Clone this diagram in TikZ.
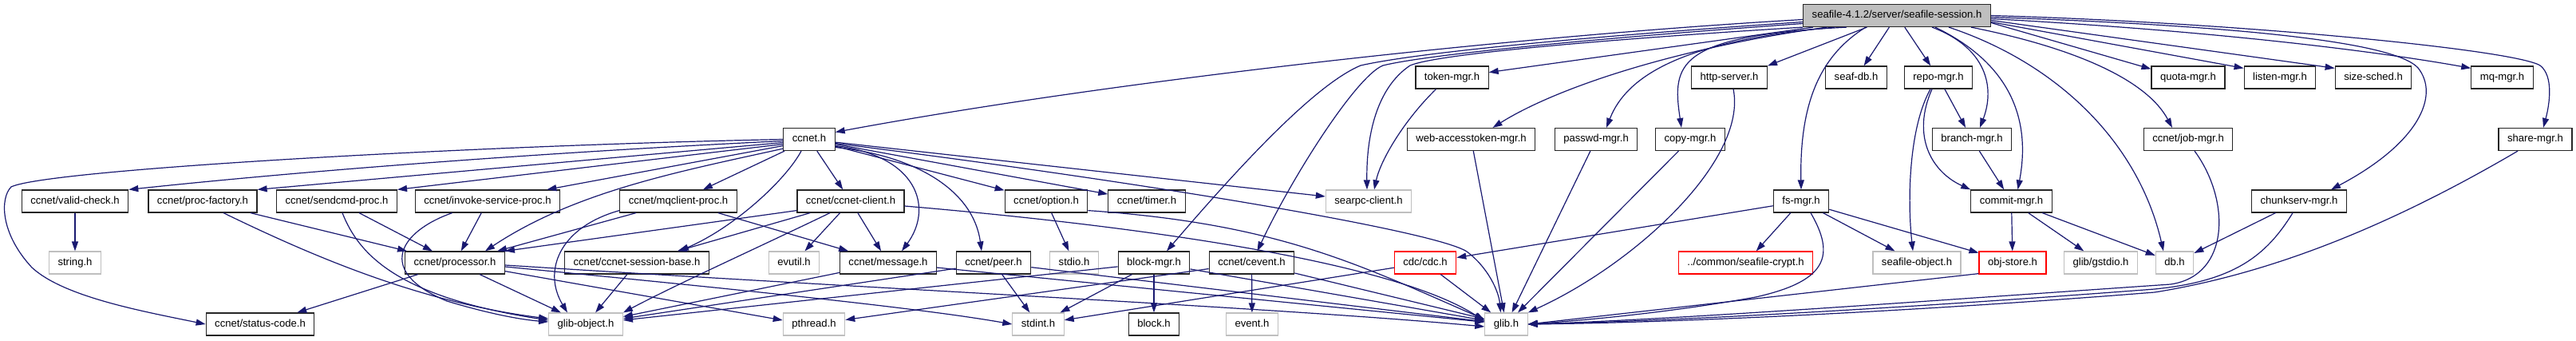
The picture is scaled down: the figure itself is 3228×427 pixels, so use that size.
\documentclass[tikz,border=0pt]{standalone}
\usepackage{fontspec}
\setmainfont{Liberation Sans}
\usetikzlibrary{calc,arrows.meta}
\definecolor{edgecol}{RGB}{25,25,112}
\definecolor{undoccol}{RGB}{191,191,191}
\definecolor{rootfill}{RGB}{191,191,191}
\begin{document}
\begin{tikzpicture}[x=0.5pt,y=-0.5pt,
  box/.style={rectangle,draw,line width=0.6pt,inner xsep=5.5pt,inner ysep=0pt,minimum height=14pt,
    text height=4.8pt,text depth=1.4pt,font=\fontsize{6.55}{7.5}\selectfont},
  doc/.style={box,draw=black!85},
  undoc/.style={box,draw=undoccol},
  trunc/.style={box,draw=red},
  rootnode/.style={box,draw=black!85,fill=rootfill},
  e/.style={draw=edgecol,line width=0.6pt,-{Triangle[length=6pt,width=4pt]}}]
\useasboundingbox (0,0) rectangle (3228,427);
% row 0
\node[rootnode] (root) at (2377,19.5) {seafile-4.1.2/server/seafile-session.h};
% row 1
\node[doc] (token) at (1819.5,97) {token-mgr.h};
\node[doc] (http) at (2167,97) {http-server.h};
\node[doc] (seafdb) at (2326,97) {seaf-db.h};
\node[doc] (repo) at (2429,97) {repo-mgr.h};
\node[doc] (quota) at (2742,97) {quota-mgr.h};
\node[doc] (listen) at (2857,97) {listen-mgr.h};
\node[doc] (sizesched) at (2974,97) {size-sched.h};
\node[doc] (mq) at (3135.5,97) {mq-mgr.h};
% row 2
\node[doc] (ccnet) at (1014,174.5) {ccnet.h};
\node[doc] (webtok) at (1843.5,174.5) {web-accesstoken-mgr.h};
\node[doc] (passwd) at (2000,174.5) {passwd-mgr.h};
\node[doc] (copy) at (2118,174.5) {copy-mgr.h};
\node[doc] (branch) at (2471,174.5) {branch-mgr.h};
\node[doc] (jobmgr) at (2742,174.5) {ccnet/job-mgr.h};
\node[doc] (sharemgr) at (3177,174.5) {share-mgr.h};
% row 3
\node[doc] (validcheck) at (94,252) {ccnet/valid-check.h};
\node[doc] (procfactory) at (254,252) {ccnet/proc-factory.h};
\node[doc] (sendcmd) at (422,252) {ccnet/sendcmd-proc.h};
\node[doc] (invoke) at (611,252) {ccnet/invoke-service-proc.h};
\node[doc] (mqclient) at (850,252) {ccnet/mqclient-proc.h};
\node[doc] (cclient) at (1066,252) {ccnet/ccnet-client.h};
\node[doc] (option) at (1311,252) {ccnet/option.h};
\node[doc] (timer) at (1437,252) {ccnet/timer.h};
\node[undoc] (searpc) at (1715,252) {searpc-client.h};
\node[doc] (fsmgr) at (2257,252) {fs-mgr.h};
\node[doc] (commit) at (2520.5,252) {commit-mgr.h};
\node[doc] (chunkserv) at (2881,252) {chunkserv-mgr.h};
% row 4
\node[undoc] (string) at (94,329) {string.h};
\node[doc] (processor) at (570,329) {ccnet/processor.h};
\node[doc] (sessbase) at (798,329) {ccnet/ccnet-session-base.h};
\node[undoc] (evutil) at (995,329) {evutil.h};
\node[doc] (message) at (1113,329) {ccnet/message.h};
\node[doc] (peer) at (1245,329) {ccnet/peer.h};
\node[undoc] (stdio) at (1346,329) {stdio.h};
\node[doc] (blockmgr) at (1446,329) {block-mgr.h};
\node[doc] (cevent) at (1568.5,329) {ccnet/cevent.h};
\node[trunc] (cdc) at (1786,329) {cdc/cdc.h};
\node[trunc] (crypt) at (2187.5,329) {../common/seafile-crypt.h};
\node[undoc] (seafobj) at (2402,329) {seafile-object.h};
\node[trunc] (objstore) at (2522,329) {obj-store.h};
\node[undoc] (gstdio) at (2632.5,329) {glib/gstdio.h};
\node[undoc] (db) at (2725,329) {db.h};
% row 5
\node[doc] (status) at (326,406) {ccnet/status-code.h};
\node[undoc] (gobject) at (734,406) {glib-object.h};
\node[undoc] (pthread) at (1020,406) {pthread.h};
\node[undoc] (stdint) at (1301,406) {stdint.h};
\node[doc] (block) at (1446,406) {block.h};
\node[undoc] (event) at (1569,406) {event.h};
\node[undoc] (glib) at (1887.5,406) {glib.h};

% ---- edges from ccnet.h
\draw[e] (ccnet.west) .. controls (600,182) and (60,212) .. (14,234) .. controls (0,248) and (0,292) .. (40,335) .. controls (80,372) and (180,390) .. (status.west);
\draw[e] ($(ccnet.west)+(0,2)$) .. controls (700,190) and (400,212) .. (validcheck.north east);
\draw[e] ($(ccnet.west)+(0,4)$) -- (procfactory.north east);
\draw[e] ($(ccnet.west)+(0,6)$) -- (sendcmd.north east);
\draw[e] ($(ccnet.west)+(0,8)$) -- ($(invoke.north east)+(-17,0)$);
\draw[e] ($(ccnet.south west)+(0,-3)$) .. controls (850,215) and (720,240) .. ($(processor.north)+(38,0)$);
\draw[e] (ccnet) -- (mqclient);
\draw[e] (ccnet) -- (cclient);
\draw[e] ($(ccnet.south)+(-10,0)$) .. controls (985,225) and (920,285) .. ($(sessbase.north)+(53,0)$);
\draw[e] ($(ccnet.east)+(0,8)$) .. controls (1150,195) and (1170,260) .. ($(message.north)+(17,0)$);
\draw[e] ($(ccnet.east)+(0,10)$) .. controls (1150,195) and (1220,240) .. ($(peer.north)+(-15,0)$);
\draw[e] (ccnet) -- (option);
\draw[e] (ccnet) -- (timer);
\draw[e] (ccnet) -- ($(searpc.west)+(0,-6)$);
\draw[e] ($(ccnet.east)+(0,5)$) .. controls (1450,230) and (1800,290) .. (1838,315) .. controls (1865,335) and (1878,365) .. ($(glib.north)+(-7,0)$);

% ---- second level, left part
\draw[e] (validcheck) -- (string);
\draw[e] (procfactory) -- (processor);
\draw[e] ($(procfactory.south)+(26,0)$) .. controls (380,315) and (520,378) .. ($(gobject.west)+(0,-7)$);
\draw[e] (sendcmd) -- (processor);
\draw[e] ($(sendcmd.south)+(7,0)$) .. controls (450,320) and (500,372) .. ($(gobject.west)+(0,-5)$);
\draw[e] (invoke) -- (processor);
\draw[e] ($(invoke.south west)+(47,0)$) .. controls (500,290) and (470,340) .. (560,377) .. controls (610,392) and (650,400) .. ($(gobject.west)+(0,-3)$);
\draw[e] (processor) -- (status);
\draw[e] (processor) -- (gobject);
\draw[e] ($(processor.south east)+(0,-4)$) -- ($(pthread.west)+(0,-5)$);
\draw[e] ($(processor.east)+(0,5)$) .. controls (900,360) and (1150,385) .. (stdint.west);
\draw[e] ($(processor.east)+(0,3)$) .. controls (1100,362) and (1600,385) .. ($(glib.west)+(0,3)$);
\draw[e] (mqclient) -- (processor);
\draw[e] ($(mqclient.south west)+(0,-3)$) .. controls (700,285) and (680,340) .. ($(gobject.north)+(-23,0)$);
\draw[e] (mqclient) -- (message);
\draw[e] ($(cclient.south west)+(0,-3)$) -- (processor.north east);
\draw[e] (cclient) -- (sessbase);
\draw[e] ($(cclient.south)+(-26,0)$) .. controls (950,310) and (850,355) .. (gobject.north east);
\draw[e] (cclient) -- (evutil);
\draw[e] (cclient) -- (message);
\draw[e] ($(cclient.east)+(0,6)$) .. controls (1450,285) and (1750,330) .. ($(glib.west)+(0,-4)$);
\draw[e] (sessbase) -- (gobject);
\draw[e] (message) -- (gobject);
\draw[e] (message) -- (glib);
\draw[e] (peer) -- (gobject);
\draw[e] (peer) -- (stdint);
\draw[e] (peer) -- (glib);
\draw[e] (option) -- (stdio);
\draw[e] ($(option.south east)+(0,-3)$) .. controls (1600,280) and (1700,330) .. ($(glib.west)+(0,-6)$);
\draw[e] (blockmgr) -- (gobject);
\draw[e] (blockmgr) -- (stdint);
\draw[e] (blockmgr) -- (block);
\draw[e] (blockmgr) -- (glib);
\draw[e] (cevent) -- (pthread);
\draw[e] (cevent) -- (event);
\draw[e] (cevent) -- (glib);
\draw[e] (cdc) -- (stdint);
\draw[e] (cdc) -- (glib);

% ---- edges from the root
\draw[e] ($(root.west)+(0,5)$) .. controls (1900,45) and (1400,100) .. ($(ccnet.east)+(0,-9)$);
\draw[e] ($(root.west)+(0,8)$) .. controls (2000,45) and (1780,65) .. (1705,82) .. controls (1650,105) and (1560,200) .. ($(blockmgr.north)+(16,0)$);
\draw[e] ($(root.west)+(0,10)$) .. controls (2000,48) and (1790,68) .. (1733,82) .. controls (1700,95) and (1620,220) .. ($(cevent.north)+(7,0)$);
\draw[e] (root.south west) .. controls (2000,50) and (1800,68) .. (1767,82) .. controls (1725,110) and (1712,170) .. ($(searpc.north)+(-2,0)$);
\draw[e] (root) -- (token);
\draw[e] ($(root.south west)+(30,0)$) .. controls (2100,60) and (1950,110) .. ($(webtok.north)+(27,0)$);
\draw[e] ($(root.south west)+(40,0)$) .. controls (2120,50) and (2040,90) .. ($(passwd.north)+(13,0)$);
\draw[e] ($(root.south west)+(55,0)$) .. controls (2100,45) and (2095,80) .. ($(copy.north)+(-11,0)$);
\draw[e] (root) -- (http.north east);
\draw[e] ($(root.south)+(-39,0)$) .. controls (2280,70) and (2255,130) .. (fsmgr.north);
\draw[e] (root) -- (seafdb);
\draw[e] (root) -- (repo);
\draw[e] ($(root.south)+(44,0)$) .. controls (2490,60) and (2500,110) .. ($(branch.north)+(10,0)$);
\draw[e] ($(root.south)+(48,0)$) .. controls (2520,80) and (2545,150) .. ($(commit.north)+(8,0)$);
\draw[e] ($(root.south)+(65,0)$) .. controls (2580,80) and (2680,180) .. ($(db.north)+(-14,0)$);
\draw[e] ($(root.south east)+(-25,0)$) .. controls (2600,60) and (2690,100) .. ($(jobmgr.north)+(-20,0)$);
\draw[e] ($(root.east)+(0,9)$) -- ($(quota.north west)+(0,4)$);
\draw[e] ($(root.east)+(0,8)$) -- ($(listen.north west)+(0,3)$);
\draw[e] ($(root.east)+(0,6)$) -- ($(sizesched.north west)+(0,3)$);
\draw[e] ($(root.east)+(0,4)$) .. controls (2800,40) and (3000,68) .. ($(mq.north west)+(0,3)$);
\draw[e] ($(root.east)+(0,2)$) .. controls (2800,32) and (3000,52) .. (3030,85) .. controls (3058,120) and (3030,180) .. ($(chunkserv.north)+(40,0)$);
\draw[e] (root.east) .. controls (2800,28) and (3150,62) .. (3183,82) .. controls (3200,95) and (3195,130) .. ($(sharemgr.north)+(10,0)$);

% ---- other edges
\draw[e] ($(token.south)+(-20,0)$) .. controls (1760,150) and (1730,200) .. ($(searpc.north)+(7,0)$);
\draw[e] ($(repo.south)+(-10,0)$) .. controls (2392,160) and (2390,250) .. ($(seafobj.north)+(-5,0)$);
\draw[e] ($(repo.south)+(-8,0)$) .. controls (2395,170) and (2420,215) .. (commit.north west);
\draw[e] (repo) -- (branch);
\draw[e] (branch) -- (commit);
\draw[e] (fsmgr) -- (cdc);
\draw[e] (fsmgr) -- (crypt);
\draw[e] (fsmgr) -- (seafobj);
\draw[e] (fsmgr) -- (objstore);
\draw[e] ($(fsmgr.south)+(12,0)$) .. controls (2300,320) and (2290,352) .. (2200,372) .. controls (2100,390) and (2000,400) .. (glib.east);
\draw[e] (commit) -- (objstore);
\draw[e] (commit) -- (gstdio);
\draw[e] (commit) -- (db);
\draw[e] (chunkserv) -- (db);
\draw[e] ($(chunkserv.south)+(-8,0)$) .. controls (2840,320) and (2800,352) .. (2700,362) .. controls (2400,385) and (2100,402) .. (glib.east);
\draw[e] ($(jobmgr.south)+(8,0)$) .. controls (2795,250) and (2795,345) .. (2720,356) .. controls (2400,378) and (2100,400) .. (glib.east);
\draw[e] ($(sharemgr.south)+(-22,0)$) .. controls (3000,280) and (2850,342) .. (2700,366) .. controls (2400,390) and (2100,404) .. (glib.east);
\draw[e] ($(objstore.south west)+(0,-1)$) -- (glib.east);
\draw[e] ($(http.south)+(5,0)$) .. controls (2190,200) and (2050,330) .. (glib.north east);
\draw[e] (webtok) -- (glib);
\draw[e] (passwd) -- (glib);
\draw[e] (copy) -- (glib);
\end{tikzpicture}
\end{document}
